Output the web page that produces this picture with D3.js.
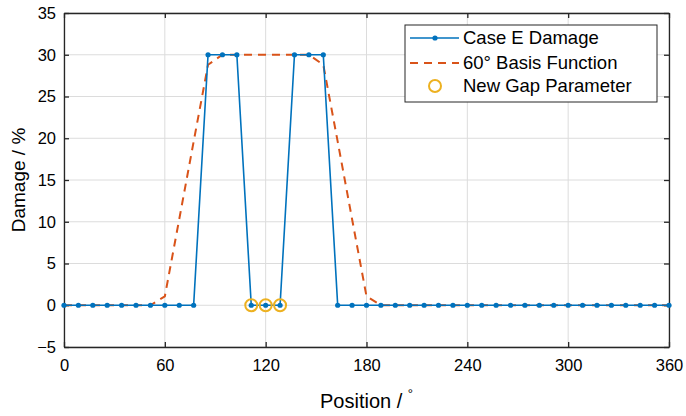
<!DOCTYPE html>
<html>
<head>
<meta charset="utf-8">
<script src="https://cdn.jsdelivr.net/npm/d3@7"></script>
<style>
  body { margin: 0; background: #fff; }
  text { font-family: Arial, "Liberation Sans", sans-serif; fill: #000; }
</style>
</head>
<body>
<svg id="chart" width="686" height="416"></svg>
<script>
// sample positions: 43 points, step 60/7 degrees
const positions = d3.range(43).map(i => i * 60 / 7)

// Case E damage (%)
const damage = [0, 0, 0, 0, 0, 0, 0, 0, 0, 0,
  30, 30, 30, 0, 0, 0, 30, 30, 30,
  0, 0, 0, 0, 0, 0, 0, 0, 0, 0, 0, 0, 0, 0, 0, 0, 0, 0, 0, 0, 0, 0, 0, 0]

// 60 deg basis function (%)
const basis = [0, 0, 0, 0, 0, 0, 0, 1.07, 10.3, 19.6, 28.8,
  30, 30, 30, 30, 30, 30, 30,
  28.8, 19.6, 10.3, 1.07,
  0, 0, 0, 0, 0, 0, 0, 0, 0, 0, 0, 0, 0, 0, 0, 0, 0, 0, 0, 0, 0]

// gap parameter points
const gapX = [111.43, 120, 128.57]
const gapY = [0, 0, 0]

const xTicks = [0, 60, 120, 180, 240, 300, 360]
const yTicks = [-5, 0, 5, 10, 15, 20, 25, 30, 35]

const blue = '#0072BD'
const orange = '#D95319'
const yellow = '#EDB120'

const margin = { top: 13, right: 17, bottom: 69, left: 64 }
const width = 686 - margin.left - margin.right
const height = 416 - margin.top - margin.bottom

const svg = d3.select('#chart')
const g = svg.append('g').attr('transform', `translate(${margin.left},${margin.top})`)

const x = d3.scaleLinear().domain([0, 360]).range([0, width])
const y = d3.scaleLinear().domain([-5, 35]).range([height, 0])

// grid
g.append('g')
  .selectAll('line')
  .data(xTicks)
  .enter()
  .append('line')
  .attr('x1', d => x(d)).attr('x2', d => x(d))
  .attr('y1', 0).attr('y2', height)
  .attr('stroke', '#dcdcdc').attr('stroke-width', 1)
g.append('g')
  .selectAll('line')
  .data(yTicks)
  .enter()
  .append('line')
  .attr('x1', 0).attr('x2', width)
  .attr('y1', d => y(d)).attr('y2', d => y(d))
  .attr('stroke', '#dcdcdc').attr('stroke-width', 1)

// axes (ticks inside, box on all sides)
const styleAxis = sel => {
  sel.select('.domain').attr('stroke', '#262626').attr('stroke-width', 1.3)
  sel.selectAll('.tick line').attr('stroke', '#262626').attr('stroke-width', 1.3)
  sel.selectAll('.tick text').style('font-size', '16.5px').attr('fill', '#262626')
}

g.append('g')
  .attr('transform', `translate(0,${height})`)
  .call(d3.axisBottom(x).tickValues(xTicks).tickSize(-5).tickSizeOuter(0).tickPadding(12))
  .call(styleAxis)
g.append('g')
  .call(d3.axisTop(x).tickValues(xTicks).tickSize(-5).tickSizeOuter(0).tickFormat(''))
  .call(styleAxis)
g.append('g')
  .call(d3.axisLeft(y).tickValues(yTicks).tickSize(-5).tickSizeOuter(0).tickPadding(8))
  .call(styleAxis)
g.append('g')
  .attr('transform', `translate(${width},0)`)
  .call(d3.axisRight(y).tickValues(yTicks).tickSize(-5).tickSizeOuter(0).tickFormat(''))
  .call(styleAxis)

// basis function
g.append('path')
  .datum(positions.map((p, i) => [p, basis[i]]))
  .attr('fill', 'none')
  .attr('stroke', orange)
  .attr('stroke-width', 2)
  .attr('stroke-dasharray', '8,6')
  .attr('d', d3.line().x(d => x(d[0])).y(d => y(d[1])))

// damage line + markers
const damagePts = positions.map((p, i) => [p, damage[i]])
g.append('path')
  .datum(damagePts)
  .attr('fill', 'none')
  .attr('stroke', blue)
  .attr('stroke-width', 1.6)
  .attr('d', d3.line().x(d => x(d[0])).y(d => y(d[1])))
g.append('g')
  .selectAll('circle')
  .data(damagePts)
  .enter()
  .append('circle')
  .attr('cx', d => x(d[0]))
  .attr('cy', d => y(d[1]))
  .attr('r', 2.6)
  .attr('fill', blue)

// gap parameter circles
g.append('g')
  .selectAll('circle')
  .data(gapX.map((p, i) => [p, gapY[i]]))
  .enter()
  .append('circle')
  .attr('cx', d => x(d[0]))
  .attr('cy', d => y(d[1]))
  .attr('r', 6)
  .attr('fill', 'none')
  .attr('stroke', yellow)
  .attr('stroke-width', 2)

// axis titles
svg.append('text')
  .attr('x', margin.left + width / 2)
  .attr('y', 408)
  .attr('text-anchor', 'middle')
  .style('font-size', '20px')
  .text('Position / ')
  .append('tspan')
  .attr('dy', -10)
  .style('font-size', '13px')
  .text('°')

svg.append('text')
  .attr('transform', `translate(25,${margin.top + y(15)}) rotate(-90)`)
  .attr('text-anchor', 'middle')
  .style('font-size', '19px')
  .text('Damage / %')

// legend
const legend = svg.append('g').attr('transform', 'translate(405,25)')
legend.append('rect')
  .attr('width', 252).attr('height', 77)
  .attr('fill', '#fff').attr('stroke', '#262626').attr('stroke-width', 1)

const items = ['Case E Damage', '60° Basis Function', 'New Gap Parameter']
const rowY = [13, 38, 61]

items.forEach((label, i) => {
  const row = legend.append('g').attr('transform', `translate(0,${rowY[i]})`)
  if (i === 0) {
    row.append('line').attr('x1', 5).attr('x2', 54).attr('stroke', blue).attr('stroke-width', 1.6)
    row.append('circle').attr('cx', 30).attr('r', 2.6).attr('fill', blue)
  } else if (i === 1) {
    row.append('line').attr('x1', 5).attr('x2', 54).attr('stroke', orange)
      .attr('stroke-width', 2).attr('stroke-dasharray', '8,6')
  } else {
    row.append('circle').attr('cx', 30).attr('r', 6).attr('fill', 'none')
      .attr('stroke', yellow).attr('stroke-width', 2)
  }
  row.append('text')
    .attr('x', 58).attr('dy', '0.35em')
    .style('font-size', '18.5px')
    .text(label)
})
</script>
</body>
</html>
